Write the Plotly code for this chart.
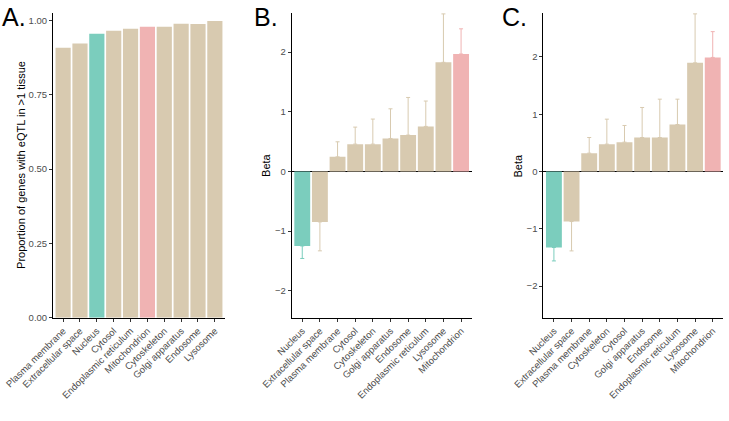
import plotly.graph_objects as go

TAN = "#D8CAB0"
TEAL = "#7BCDBD"
PINK = "#F0B3B3"

# Panel A
a_cats = ["Plasma membrane", "Extracellular space", "Nucleus", "Cytosol", "Endoplasmic reticulum",
          "Mitochondrion", "Cytoskeleton", "Golgi apparatus", "Endosome", "Lysosome"]
a_vals = [0.908, 0.922, 0.955, 0.965, 0.972, 0.979, 0.979, 0.989, 0.988, 0.998]

# Panel B
b_cats = ["Nucleus", "Extracellular space", "Plasma membrane", "Cytosol", "Cytoskeleton",
          "Golgi apparatus", "Endosome", "Endoplasmic reticulum", "Lysosome", "Mitochondrion"]
b_beta = [-1.248, -0.845, 0.245, 0.458, 0.458, 0.553, 0.609, 0.755, 1.829, 1.968]
b_err = [0.21, 0.485, 0.252, 0.285, 0.42, 0.497, 0.631, 0.425, 0.811, 0.422]

# Panel C
c_cats = ["Nucleus", "Extracellular space", "Plasma membrane", "Cytoskeleton", "Cytosol",
          "Golgi apparatus", "Endosome", "Endoplasmic reticulum", "Lysosome", "Mitochondrion"]
c_beta = [-1.326, -0.873, 0.32, 0.477, 0.512, 0.593, 0.593, 0.82, 1.895, 1.99]
c_err = [0.234, 0.512, 0.273, 0.436, 0.291, 0.524, 0.669, 0.442, 0.855, 0.45]


def color_of(cat):
    if cat == "Nucleus":
        return TEAL
    if cat == "Mitochondrion":
        return PINK
    return TAN


fig = go.Figure()

# Panel A traces (one per colour group)
for col in [TAN, TEAL, PINK]:
    xs = [c for c in a_cats if color_of(c) == col]
    ys = [v for c, v in zip(a_cats, a_vals) if color_of(c) == col]
    fig.add_trace(go.Bar(x=xs, y=ys, marker=dict(color=col, line=dict(width=0)),
                         xaxis="x", yaxis="y", showlegend=False))


def add_beta(cats, beta, err, xa, ya):
    for col in [TAN, TEAL, PINK]:
        xs, ys, up, dn = [], [], [], []
        for c, b, e in zip(cats, beta, err):
            if color_of(c) != col:
                continue
            xs.append(c)
            ys.append(b)
            up.append(e if b >= 0 else 0)
            dn.append(e if b < 0 else 0)
        fig.add_trace(go.Bar(
            x=xs, y=ys, marker=dict(color=col, line=dict(width=0)),
            error_y=dict(type="data", symmetric=False, array=up, arrayminus=dn,
                         color=col, thickness=1, width=2),
            xaxis=xa, yaxis=ya, showlegend=False))


add_beta(b_cats, b_beta, b_err, "x2", "y2")
add_beta(c_cats, c_beta, c_err, "x3", "y3")

ydom = [0.2454, 0.9698]
tickfont = dict(family="Liberation Sans, Arial", size=9.5, color="#4D4D4D")
xcommon = dict(type="category", showline=True, linecolor="black", linewidth=1,
               ticks="outside", ticklen=3, tickcolor="#333333", tickangle=-45,
               tickfont=tickfont, showgrid=False, zeroline=False, range=[-0.6, 9.6],
               automargin=False)
ycommon = dict(showline=True, linecolor="black", linewidth=1, ticks="outside",
               ticklen=3, tickcolor="#333333", tickfont=tickfont, showgrid=False,
               automargin=False)

fig.update_layout(
    width=729, height=421,
    margin=dict(l=0, r=0, t=0, b=0, autoexpand=False),
    paper_bgcolor="white", plot_bgcolor="white",
    barmode="overlay", bargap=0.1,
    xaxis=dict(domain=[0.0727, 0.3086], anchor="y", categoryorder="array",
               categoryarray=a_cats, **xcommon),
    yaxis=dict(domain=ydom, anchor="x", range=[0, 1.026],
               tickvals=[0, 0.25, 0.5, 0.75, 1.0], ticktext=["0.00", "0.25", "0.50", "0.75", "1.00"],
               zeroline=False, **ycommon),
    xaxis2=dict(domain=[0.4001, 0.6470], anchor="y2", categoryorder="array",
                categoryarray=b_cats, **xcommon),
    yaxis2=dict(domain=ydom, anchor="x2", range=[-2.45, 2.66], tickvals=[-2, -1, 0, 1, 2],
                ticktext=["\u22122", "\u22121", "0", "1", "2"],
                zeroline=True, zerolinecolor="black", zerolinewidth=1, **ycommon),
    xaxis3=dict(domain=[0.7453, 0.9922], anchor="y3", categoryorder="array",
                categoryarray=c_cats, **xcommon),
    yaxis3=dict(domain=ydom, anchor="x3", range=[-2.55, 2.77], tickvals=[-2, -1, 0, 1, 2],
                ticktext=["\u22122", "\u22121", "0", "1", "2"],
                zeroline=True, zerolinecolor="black", zerolinewidth=1, **ycommon),
)

ann = []
for txt, x in [("A.", 0), ("B.", 252 / 729), ("C.", 500 / 729)]:
    ann.append(dict(text=txt, x=x, y=1 - 17 / 421, xref="paper", yref="paper",
                    xanchor="left", yanchor="middle", showarrow=False,
                    font=dict(family="Liberation Sans, Arial", size=25, color="black")))
for txt, x in [("Proportion of genes with eQTL in >1 tissue", 21.7 / 729),
               ("Beta", 266.7 / 729), ("Beta", 518.3 / 729)]:
    ann.append(dict(text=txt, x=x, y=(ydom[0] + ydom[1]) / 2, xref="paper", yref="paper",
                    xanchor="center", yanchor="middle", textangle=-90, showarrow=False,
                    font=dict(family="Liberation Sans, Arial", size=11, color="black")))
fig.update_layout(annotations=ann)

fig.write_html("out.html", config={"displayModeBar": False},
               post_script="document.body.style.margin='0';")
